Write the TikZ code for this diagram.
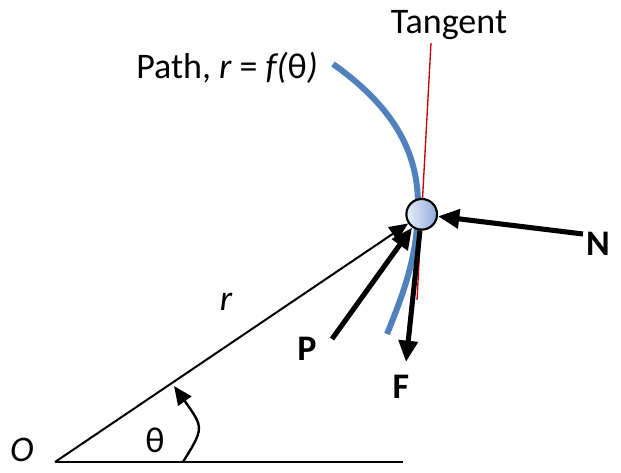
\documentclass[tikz,border=0pt]{standalone}
\usepackage{fontspec}
\setmainfont{Carlito}
\usepackage{xcolor}
\usetikzlibrary{arrows.meta}

\definecolor{pathblue}{RGB}{79,129,189}
\definecolor{ballblue}{RGB}{143,170,220}
\definecolor{tanred}{RGB}{200,0,0}

\tikzset{
  lbl/.style={font=\fontsize{27}{30}\selectfont, inner sep=0pt},
  force/.style={line width=3.8pt, -{Triangle[length=16pt, width=14pt]}},
  thinarrow/.style={line width=1.5pt, -{Triangle[length=14pt, width=12pt]}}
}

\begin{document}
\begin{tikzpicture}[x=0.75pt, y=-0.75pt]
				\useasboundingbox (0,0) rectangle (621,472);
				
				\coordinate (o) at (55,462);
				\coordinate (xend) at (403,462);
				
				\draw[tanred, line width=1pt] (431,43) -- (417,300);
				\draw[pathblue, line width=4.5pt] (333,64) .. controls (392,106) and (418,150) .. (418,205)
					.. controls (418,255) and (404,292) .. (387,334);
				
				\node[circle, draw, line width=1.6pt, minimum size=23pt, inner sep=0pt,
					left color=ballblue!20, right color=ballblue] (m) at (421.7,214.3) {};
				
				\coordinate (pstart) at (332,339);
				\coordinate (nstart) at (583,234);
				\coordinate (fend) at (406,362);
				
				\draw[line width=1.5pt] (o) -- (xend);
				\draw[thinarrow] (o) -- (m);
				\draw[force] (pstart) -- (m);
				\draw[force] (nstart) -- (m);
				\draw[force] (m) -- (fend);
				\draw[thinarrow, line width=1.8pt] (183,462) .. controls (204,428) .. (174,386);
				
				\node[lbl] (olbl) at (22,450) {\itshape O};
				\node[lbl] (thlbl) at (155,440) {θ};
				\node[lbl] (rlbl) at (226,302) {\itshape r};
				\node[lbl, font=\fontsize{27}{30}\selectfont\bfseries] (plbl) at (307,349) {P};
				\node[lbl, font=\fontsize{27}{30}\selectfont\bfseries] (flbl) at (401,387) {F};
				\node[lbl, font=\fontsize{27}{30}\selectfont\bfseries] (nlbl) at (598,244) {N};
				\node[lbl] (tlbl) at (449,25) {Tangent};
				\node[lbl] (pathlbl) at (227,68) {Path, {\itshape r} = {\itshape f(}θ{\itshape )}};
			\end{tikzpicture}
\end{document}
